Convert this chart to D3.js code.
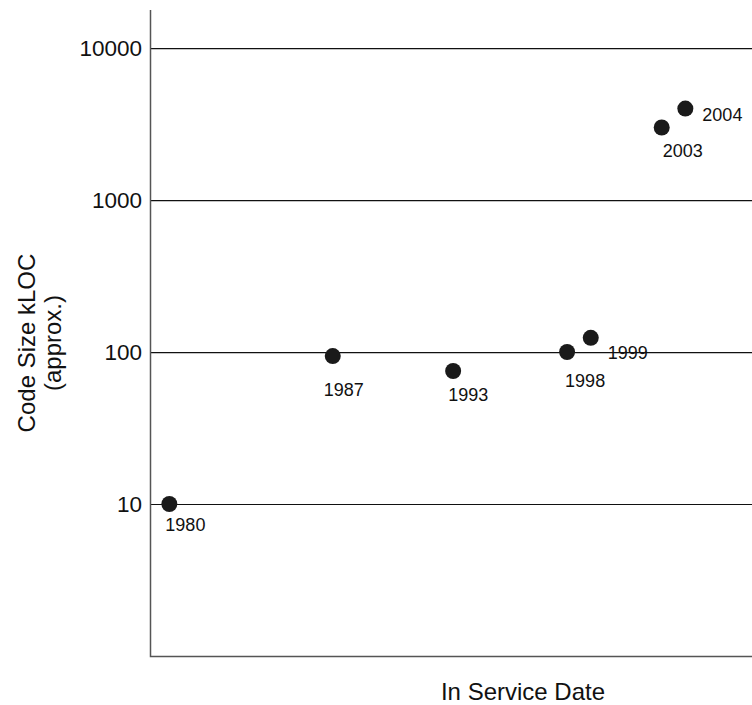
<!DOCTYPE html>
<html>
<head>
<meta charset="utf-8">
<script src="https://cdn.jsdelivr.net/npm/d3@7"></script>
<style>
  body { margin: 0; background: #fff; }
  svg { display: block; font-family: Arial, "Liberation Sans", sans-serif; }
</style>
</head>
<body>
<figure id="scatter" style="margin:0"></figure>
<script>
// data (dates as decimal years)
const labels = ["1980", "1987", "1993", "1998", "1999", "2003", "2004"];
const dates = [1980.0, 1987.6, 1993.2, 1998.5, 1999.6, 2002.9, 2004.0];
const kloc = [10, 94, 75, 100, 124, 3000, 4000];
const yTicks = [10, 100, 1000, 10000];

// label nudges relative to each dot, px
const labelDx = [-4, -9, -5, -2, 17, 1, 17];
const labelDy = [27, 40, 30, 35, 21, 29, 12];

const width = 752, height = 705;
const plotLeft = 150, plotTop = 10, plotBottom = 656, plotRight = 752;

const svg = d3.select("figure#scatter")
  .append("svg")
  .attr("width", width)
  .attr("height", height);

const x = d3.scaleLinear()
  .domain([1979.1, 2007.1])
  .range([plotLeft, plotRight]);

const y = d3.scaleLog()
  .domain([1, 17800])
  .range([plotBottom, plotTop]);

// horizontal grid lines + tick labels
const yAxis = svg.append("g")
  .attr("transform", "translate(" + plotLeft + ",0)")
  .call(d3.axisLeft(y).tickValues(yTicks).tickFormat(d3.format("d"))
    .tickSize(-(plotRight - plotLeft)).tickPadding(8));
yAxis.select(".domain").remove();
yAxis.selectAll(".tick line").attr("stroke", "#111").attr("stroke-width", 1.2);
yAxis.selectAll(".tick text")
  .attr("fill", "#111")
  .style("font-size", "22.5px")
  .style("font-family", "Arial, 'Liberation Sans', sans-serif");

// axis frame (left + bottom)
svg.append("path")
  .attr("d", "M" + (plotLeft + 0.5) + "," + plotTop + "V" + (plotBottom + 0.5) + "H" + plotRight)
  .attr("fill", "none")
  .attr("stroke", "#555")
  .attr("stroke-width", 1.5);

// dots
const pts = labels.map((l, i) => ({ label: l, date: dates[i], v: kloc[i], dx: labelDx[i], dy: labelDy[i] }));

svg.selectAll("circle.pt")
  .data(pts)
  .enter()
  .append("circle")
  .attr("class", "pt")
  .attr("cx", d => x(d.date))
  .attr("cy", d => y(d.v))
  .attr("r", 8)
  .attr("fill", "#1a1a1a");

svg.selectAll("text.pt-label")
  .data(pts)
  .enter()
  .append("text")
  .attr("class", "pt-label")
  .attr("x", d => x(d.date) + d.dx)
  .attr("y", d => y(d.v) + d.dy)
  .attr("fill", "#111")
  .style("font-size", "18px")
  .text(d => d.label);

// axis titles
svg.append("text")
  .attr("x", 523)
  .attr("y", 700)
  .attr("text-anchor", "middle")
  .attr("fill", "#111")
  .style("font-size", "24px")
  .text("In Service Date");

const yTitle = svg.append("text")
  .attr("transform", "translate(0,343) rotate(-90)")
  .attr("text-anchor", "middle")
  .attr("fill", "#111")
  .style("font-size", "24px");
yTitle.append("tspan").attr("x", 0).attr("y", 35).text("Code Size kLOC");
yTitle.append("tspan").attr("x", 0).attr("y", 61).text("(approx.)");
</script>
</body>
</html>
